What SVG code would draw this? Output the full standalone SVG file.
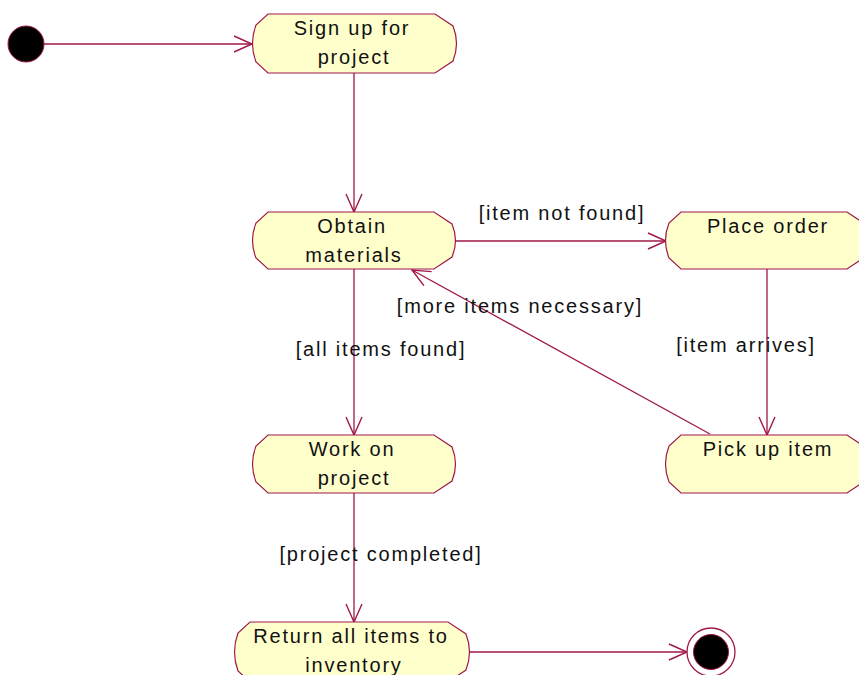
<svg xmlns="http://www.w3.org/2000/svg" width="859" height="675" viewBox="0 0 859 675">
  <style>
    .state { fill: #FFFFCC; stroke: #A0174A; stroke-width: 1.2; }
    .txt { font-family: "Liberation Sans", Arial, sans-serif; font-size: 20px; letter-spacing: 1.8px; fill: #111; text-anchor: middle; }
    .edge { fill: none; stroke: #A0174A; stroke-width: 1.3; marker-end: url(#open); }
  </style>
  <defs>
    <marker id="open" markerUnits="userSpaceOnUse" viewBox="-1 -1 21 19" refX="18" refY="8" markerWidth="21" markerHeight="19" orient="auto">
      <path d="M0,0 L18,8 L0,16" fill="none" stroke="#A0174A" stroke-width="1.4"/>
    </marker>
  </defs>
  <rect width="859" height="675" fill="#FFFFFF"/>

  <!-- transitions -->
  <g id="connectors">
    <line class="edge" x1="44" y1="44" x2="252" y2="44"/>
    <line class="edge" x1="354" y1="73" x2="354" y2="212"/>
    <line class="edge" x1="456" y1="241" x2="666" y2="241"/>
    <line class="edge" x1="354" y1="269" x2="354" y2="435"/>
    <line class="edge" x1="767" y1="269" x2="767" y2="435"/>
    <line class="edge" x1="710" y1="434" x2="412" y2="270"/>
    <line class="edge" x1="354" y1="493" x2="354" y2="622"/>
    <line class="edge" x1="470" y1="652" x2="687" y2="652"/>
    <text class="txt" x="562" y="220">[item not found]</text>
    <text class="txt" x="381" y="356">[all items found]</text>
    <text class="txt" x="746" y="352">[item arrives]</text>
    <text class="txt" x="520" y="313">[more items necessary]</text>
    <text class="txt" x="381" y="561">[project completed]</text>
  </g>

  <!-- start / end -->
  <g id="initial">
    <circle cx="26" cy="44" r="18" fill="#000" stroke="#A0174A" stroke-width="1"/>
  </g>
  <g id="final">
    <circle cx="711" cy="652" r="24" fill="#FFF" stroke="#A0174A" stroke-width="1.3"/>
    <circle cx="711" cy="652" r="17.5" fill="#000" stroke="#A0174A" stroke-width="1"/>
  </g>

  <!-- states -->
  <g id="sign-up">
    <path class="state" d="M268,14 H435 L453,26 Q460,43.5 453,61 L435,73 H268 L256,62 Q249,43.5 256,25 Z"/>
    <text class="txt" x="352" y="35">Sign up for</text>
    <text class="txt" x="354" y="64">project</text>
  </g>
  <g id="obtain-materials">
    <path class="state" d="M268,212 H434 L452,224 Q459,240.5 452,257 L434,269 H268 L256,258 Q249,240.5 256,223 Z"/>
    <text class="txt" x="352" y="233">Obtain</text>
    <text class="txt" x="354" y="262">materials</text>
  </g>
  <g id="place-order">
    <path class="state" d="M681,212 H847 L865,224 Q872,240.5 865,257 L847,269 H681 L669,258 Q662,240.5 669,223 Z"/>
    <text class="txt" x="768" y="233">Place order</text>
  </g>
  <g id="pick-up-item">
    <path class="state" d="M681,435 H847 L865,447 Q872,464 865,481 L847,493 H681 L669,482 Q662,464 669,446 Z"/>
    <text class="txt" x="768" y="456">Pick up item</text>
  </g>
  <g id="work-on-project">
    <path class="state" d="M268,435 H434 L452,447 Q459,464 452,481 L434,493 H268 L256,482 Q249,464 256,446 Z"/>
    <text class="txt" x="352" y="456">Work on</text>
    <text class="txt" x="354" y="485">project</text>
  </g>
  <g id="return-items">
    <path class="state" d="M250,622 H448 L466,634 Q473,652 466,670 L448,682 H250 L238,671 Q231,652 238,633 Z"/>
    <text class="txt" x="351" y="643">Return all items to</text>
    <text class="txt" x="354" y="672">inventory</text>
  </g>
</svg>
